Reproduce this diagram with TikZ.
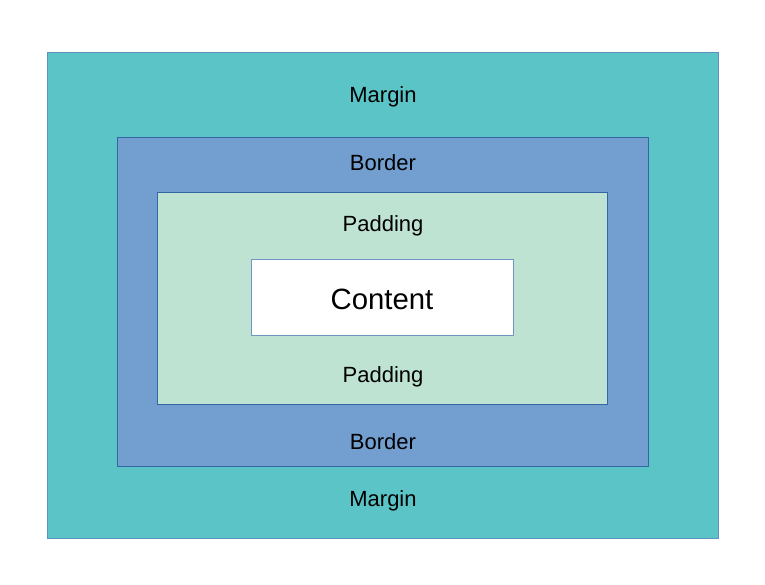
\documentclass[tikz,border=0pt]{standalone}
\usepackage{fontspec}
\setmainfont{Liberation Sans}
\definecolor{marginfill}{RGB}{91,196,198}
\definecolor{marginline}{RGB}{95,145,190}
\definecolor{borderfill}{RGB}{114,159,207}
\definecolor{borderline}{RGB}{52,101,164}
\definecolor{paddingfill}{RGB}{191,227,211}
\definecolor{contentline}{RGB}{114,150,195}
\tikzset{boxlabel/.style={anchor=base,inner sep=0.75pt,font=\fontsize{16.5}{20}\selectfont}}
\begin{document}
\begin{tikzpicture}[x=0.75pt,y=0.75pt,yscale=-1,xscale=1]
\useasboundingbox (0,0) rectangle (765,585);
\draw [draw=marginline,fill=marginfill,line width=0.9pt] (47.5,52.5) rectangle (718.5,538.5);
\draw [draw=borderline,fill=borderfill,line width=0.75pt] (117.5,137.5) rectangle (648,466);
\draw [draw=borderline,fill=paddingfill,line width=0.75pt] (157.5,192.5) rectangle (607.5,404);
\draw [draw=contentline,fill=white,line width=0.75pt] (251.5,259.5) rectangle (513,335);
\node [boxlabel] (margintop) at (383,103) {Margin};
\node [boxlabel] (bordertop) at (383,171) {Border};
\node [boxlabel] (paddingtop) at (383,231.5) {Padding};
\node [boxlabel,font=\fontsize{22}{26}\selectfont] (content) at (382,309) {Content};
\node [boxlabel] (paddingbot) at (383,382.5) {Padding};
\node [boxlabel] (borderbot) at (383,449) {Border};
\node [boxlabel] (marginbot) at (383,506) {Margin};
\end{tikzpicture}
\end{document}
